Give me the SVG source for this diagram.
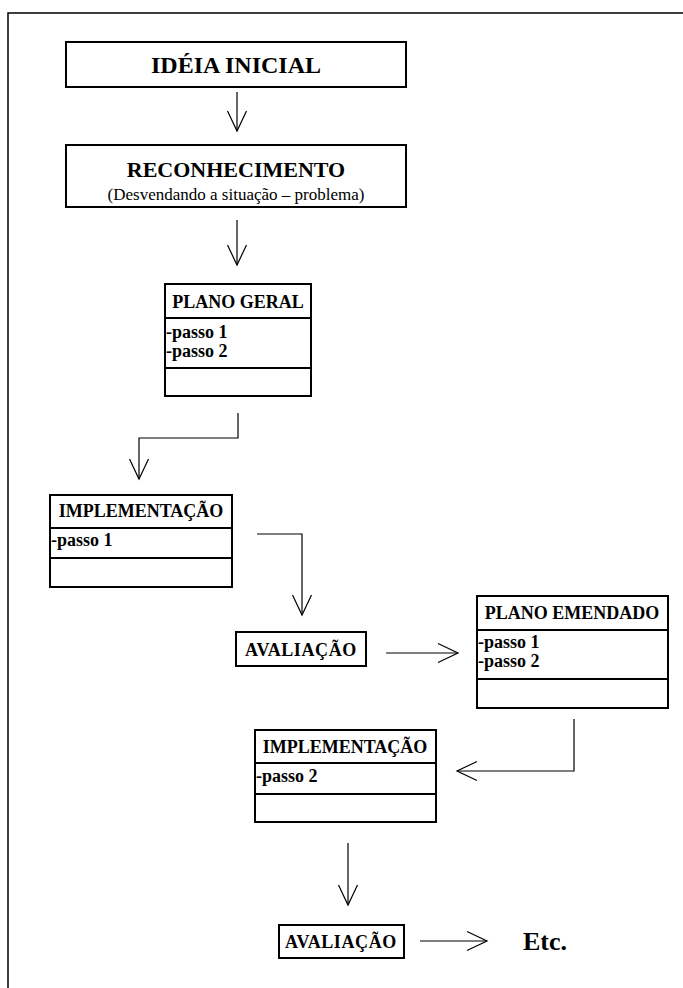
<svg xmlns="http://www.w3.org/2000/svg" width="683" height="988" viewBox="0 0 683 988">
<defs>
<marker id="arr" viewBox="-2 -11 24 22" refX="20" refY="0" markerWidth="24" markerHeight="22" markerUnits="userSpaceOnUse" orient="auto">
<path d="M0,-9.5 L20,0 L0,9.5" fill="none" stroke="#000" stroke-width="1.2"/>
</marker>
<style>
.box{fill:#fff;stroke:#000;stroke-width:2}
.div{stroke:#000;stroke-width:2}
.con{fill:none;stroke:#000;stroke-width:1.2;marker-end:url(#arr)}
.t{font-family:"Liberation Serif","Times New Roman",serif;font-weight:bold;fill:#000}
.h{font-size:18px;text-anchor:middle}
.s{font-size:18px}
.av{font-size:18px;letter-spacing:0.6px;text-anchor:middle}
.sub{font-family:"Liberation Serif","Times New Roman",serif;font-size:17px;fill:#000;text-anchor:middle}
</style>
</defs>
<rect width="683" height="988" fill="#fff"/>
<path d="M8,988 V13 H683" fill="none" stroke="#000" stroke-width="1.5"/>

<g id="connectors">
<line class="con" x1="237" y1="92" x2="237" y2="131"/>
<line class="con" x1="237" y1="220" x2="237" y2="265"/>
<path class="con" d="M238,413 V438 H139 V479"/>
<path class="con" d="M257,534 H302 V615"/>
<line class="con" x1="386" y1="653" x2="458" y2="653"/>
<path class="con" d="M574,719 V771 H457"/>
<line class="con" x1="348" y1="843" x2="348" y2="905"/>
<line class="con" x1="420" y1="941" x2="487" y2="941"/>
</g>

<g id="ideia">
<rect class="box" x="66" y="42" width="340" height="45"/>
<text class="t" x="236" y="73" font-size="24" text-anchor="middle">IDÉIA INICIAL</text>
</g>

<g id="reconhecimento">
<rect class="box" x="66" y="145" width="340" height="62"/>
<text class="t" x="236" y="177" font-size="22" text-anchor="middle">RECONHECIMENTO</text>
<text class="sub" x="236" y="200">(Desvendando a situação – problema)</text>
</g>

<g id="plano-geral">
<rect class="box" x="165" y="284" width="146" height="112"/>
<line class="div" x1="165" y1="318" x2="311" y2="318"/>
<line class="div" x1="165" y1="368" x2="311" y2="368"/>
<text class="t h" x="238" y="308">PLANO GERAL</text>
<text class="t s" x="166" y="338">-passo 1</text>
<text class="t s" x="166" y="357">-passo 2</text>
</g>

<g id="implementacao-1">
<rect class="box" x="50" y="495" width="182" height="92"/>
<line class="div" x1="50" y1="528" x2="232" y2="528"/>
<line class="div" x1="50" y1="558" x2="232" y2="558"/>
<text class="t h" x="141" y="517">IMPLEMENTAÇÃO</text>
<text class="t s" x="51" y="546">-passo 1</text>
</g>

<g id="avaliacao-1">
<rect class="box" x="236" y="632" width="130" height="34"/>
<text class="t av" x="301" y="656">AVALIAÇÃO</text>
</g>

<g id="plano-emendado">
<rect class="box" x="477" y="596" width="191" height="112"/>
<line class="div" x1="477" y1="630" x2="668" y2="630"/>
<line class="div" x1="477" y1="679" x2="668" y2="679"/>
<text class="t h" x="572" y="619">PLANO EMENDADO</text>
<text class="t s" x="478" y="648">-passo 1</text>
<text class="t s" x="478" y="667">-passo 2</text>
</g>

<g id="implementacao-2">
<rect class="box" x="255" y="730" width="181" height="92"/>
<line class="div" x1="255" y1="763" x2="436" y2="763"/>
<line class="div" x1="255" y1="794" x2="436" y2="794"/>
<text class="t h" x="345" y="753">IMPLEMENTAÇÃO</text>
<text class="t s" x="256" y="782">-passo 2</text>
</g>

<g id="avaliacao-2">
<rect class="box" x="279" y="925" width="125" height="33"/>
<text class="t av" x="341" y="948">AVALIAÇÃO</text>
</g>

<g id="etc">
<text class="t" x="523" y="950" font-size="26">Etc.</text>
</g>
</svg>
